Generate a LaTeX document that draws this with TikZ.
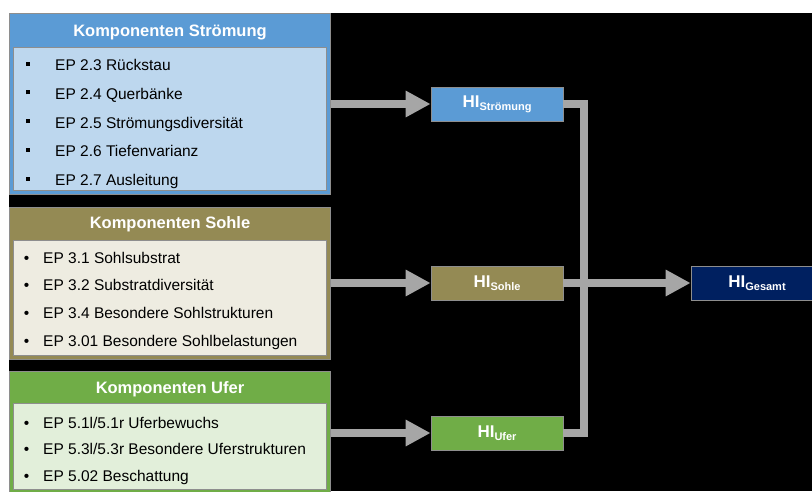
\documentclass[tikz,border=0pt]{standalone}
\usepackage{fontspec}
\setmainfont{Liberation Sans}
\usetikzlibrary{arrows.meta}

\definecolor{stromhead}{HTML}{5B9BD5}
\definecolor{strominner}{HTML}{BDD7EE}
\definecolor{sohlhead}{HTML}{948A54}
\definecolor{sohlinner}{HTML}{EEECE1}
\definecolor{uferhead}{HTML}{70AD47}
\definecolor{uferinner}{HTML}{E2EFDA}
\definecolor{gesamtcol}{HTML}{002060}
\definecolor{barcol}{HTML}{A6A6A6}
\definecolor{edgecol}{HTML}{8E8E8E}

\newcommand{\hilabel}[1]{{\fontsize{17}{17}\selectfont\bfseries HI}\raisebox{-3pt}{\fontsize{11}{11}\selectfont\bfseries #1}}
\newcommand{\sqbul}{\llap{\rule[5pt]{3.5pt}{4pt}\hspace{25.5pt}}}
\newcommand{\rdbul}{\llap{•\hspace{13.8pt}}}

\begin{document}
\begin{tikzpicture}[x=1pt,y=-1pt,
  panel/.style={draw=edgecol, line width=0.8pt, inner sep=0pt, anchor=north west},
  headtext/.style={text=white, font=\fontsize{16.5}{16.5}\selectfont\bfseries, inner sep=0pt, anchor=base},
  item/.style={text=black, font=\fontsize{15.5}{15.5}\selectfont, inner sep=0pt, anchor=base west},
  hibox/.style={draw=edgecol, line width=0.8pt, text=white, minimum width=132pt, minimum height=34pt, inner sep=0pt},
  bar/.style={draw=barcol, line width=8.5pt, line join=miter},
  bararrow/.style={bar, -{Triangle[length=25pt,width=25pt]}}
]
\useasboundingbox (0,0) rectangle (812,491);
\clip (0,0) rectangle (812,491);
\fill[white] (0,0) rectangle (812,491);
\fill[black] (9,13) rectangle (812,491);

% Komponenten Strömung
\node[panel, fill=stromhead, minimum width=321pt, minimum height=181pt] (stroem) at (9,13) {};
\node[panel, fill=strominner, minimum width=313pt, minimum height=143pt] (stroemlist) at (13,47) {};
\node[headtext] (stroemhead) at (170,36) {Komponenten Strömung};
\foreach \t [count=\i] in {EP 2.3 Rückstau, EP 2.4 Querbänke, EP 2.5 Strömungsdiversität, EP 2.6 Tiefenvarianz, EP 2.7 Ausleitung}
  \node[item] (stroemitem\i) at (55,{70.5+28.8*(\i-1)}) {\sqbul\t};

% Komponenten Sohle
\node[panel, fill=sohlhead, minimum width=321pt, minimum height=152pt] (sohle) at (9,207) {};
\node[panel, fill=sohlinner, minimum width=313pt, minimum height=115pt] (sohlelist) at (13,240) {};
\node[headtext] (sohlehead) at (170,228.5) {Komponenten Sohle};
\foreach \t [count=\i] in {EP 3.1 Sohlsubstrat, EP 3.2 Substratdiversität, EP 3.4 Besondere Sohlstrukturen, EP 3.01 Besondere Sohlbelastungen}
  \node[item] (sohleitem\i) at (43,{263+27.9*(\i-1)}) {\rdbul\t};

% Komponenten Ufer
\node[panel, fill=uferhead, minimum width=321pt, minimum height=130pt] (ufer) at (9,371) {};
\node[panel, fill=uferinner, minimum width=313pt, minimum height=86pt] (uferlist) at (13,403) {};
\node[headtext] (uferhead) at (170,393.3) {Komponenten Ufer};
\foreach \t [count=\i] in {EP 5.1l/5.1r Uferbewuchs, EP 5.3l/5.3r Besondere Uferstrukturen, EP 5.02 Beschattung}
  \node[item] (uferitem\i) at (43,{428+26.8*(\i-1)}) {\rdbul\t};

% Teilindizes und Gesamtindex
\node[hibox, fill=stromhead] (hiS) at (497,104) {\hilabel{Strömung}};
\node[hibox, fill=sohlhead] (hiSo) at (497,283) {\hilabel{Sohle}};
\node[hibox, fill=uferhead] (hiU) at (497,433) {\hilabel{Ufer}};
\node[hibox, fill=gesamtcol] (hiG) at (757,283) {\hilabel{Gesamt}};

% Verbindungen
\draw[bararrow] (stroem.east |- hiS.west) -- (hiS.west);
\draw[bararrow] (sohle.east |- hiSo.west) -- (hiSo.west);
\draw[bararrow] (ufer.east |- hiU.west) -- (hiU.west);
\coordinate (join) at (584,283);
\draw[bar] (hiS.east) -| (join) |- (hiU.east);
\draw[bararrow] (hiSo.east) -- (hiG.west);
\end{tikzpicture}
\end{document}
